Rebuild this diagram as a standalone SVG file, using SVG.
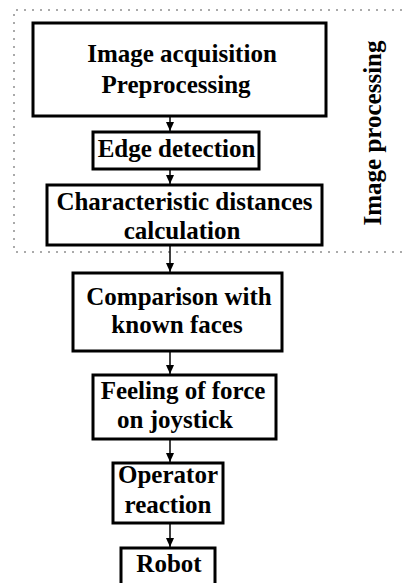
<svg xmlns="http://www.w3.org/2000/svg" width="408" height="583" viewBox="0 0 408 583">
<style>
.box{fill:#fff;stroke:#000;stroke-width:3}
.t{font-family:"Liberation Serif","Times New Roman",serif;font-weight:bold;font-size:25px;fill:#000;text-anchor:middle}
.c{stroke:#000;stroke-width:1.5;fill:none}
.dot{fill:none;stroke:#aaa;stroke-width:2;stroke-dasharray:2 6}
</style>
<defs>
<marker id="ah" markerUnits="userSpaceOnUse" markerWidth="10" markerHeight="8" refX="9" refY="4" orient="auto">
<path d="M0,0 L9,4 L0,8 Z" fill="#000"/>
</marker>
</defs>
<rect width="408" height="583" fill="#fff"/>
<g id="region">
<path class="dot" d="M410 10 H14 V252 H410"/>
<text class="t" transform="translate(381,133) rotate(-90)">Image processing</text>
</g>
<g id="connectors">
<line class="c" x1="170" y1="116" x2="170" y2="131" marker-end="url(#ah)"/>
<line class="c" x1="170" y1="169" x2="170" y2="184" marker-end="url(#ah)"/>
<line class="c" x1="170" y1="245" x2="170" y2="272" marker-end="url(#ah)"/>
<line class="c" x1="170" y1="351" x2="170" y2="374" marker-end="url(#ah)"/>
<line class="c" x1="170" y1="439" x2="170" y2="462" marker-end="url(#ah)"/>
<line class="c" x1="170" y1="523" x2="170" y2="547" marker-end="url(#ah)"/>
</g>
<g id="n1"><rect class="box" x="33" y="23" width="293" height="93"/>
<text class="t" x="182" y="62">Image acquisition</text><text class="t" x="176" y="93">Preprocessing</text></g>
<g id="n2"><rect class="box" x="93" y="132" width="166" height="37"/>
<text class="t" x="176.5" y="157">Edge detection</text></g>
<g id="n3"><rect class="box" x="47" y="185" width="275" height="60"/>
<text class="t" x="184.5" y="210">Characteristic distances</text><text class="t" x="182" y="239">calculation</text></g>
<g id="n4"><rect class="box" x="73" y="273" width="209" height="78"/>
<text class="t" x="179" y="305">Comparison with</text><text class="t" x="177" y="333">known faces</text></g>
<g id="n5"><rect class="box" x="93" y="375" width="183" height="64"/>
<text class="t" x="183" y="399">Feeling of force</text><text class="t" x="175" y="428">on joystick</text></g>
<g id="n6"><rect class="box" x="113" y="463" width="110" height="60"/>
<text class="t" x="168" y="483">Operator</text><text class="t" x="168" y="513">reaction</text></g>
<g id="n7"><rect class="box" x="121" y="548" width="94" height="40"/>
<text class="t" x="169" y="572">Robot</text></g>
</svg>
